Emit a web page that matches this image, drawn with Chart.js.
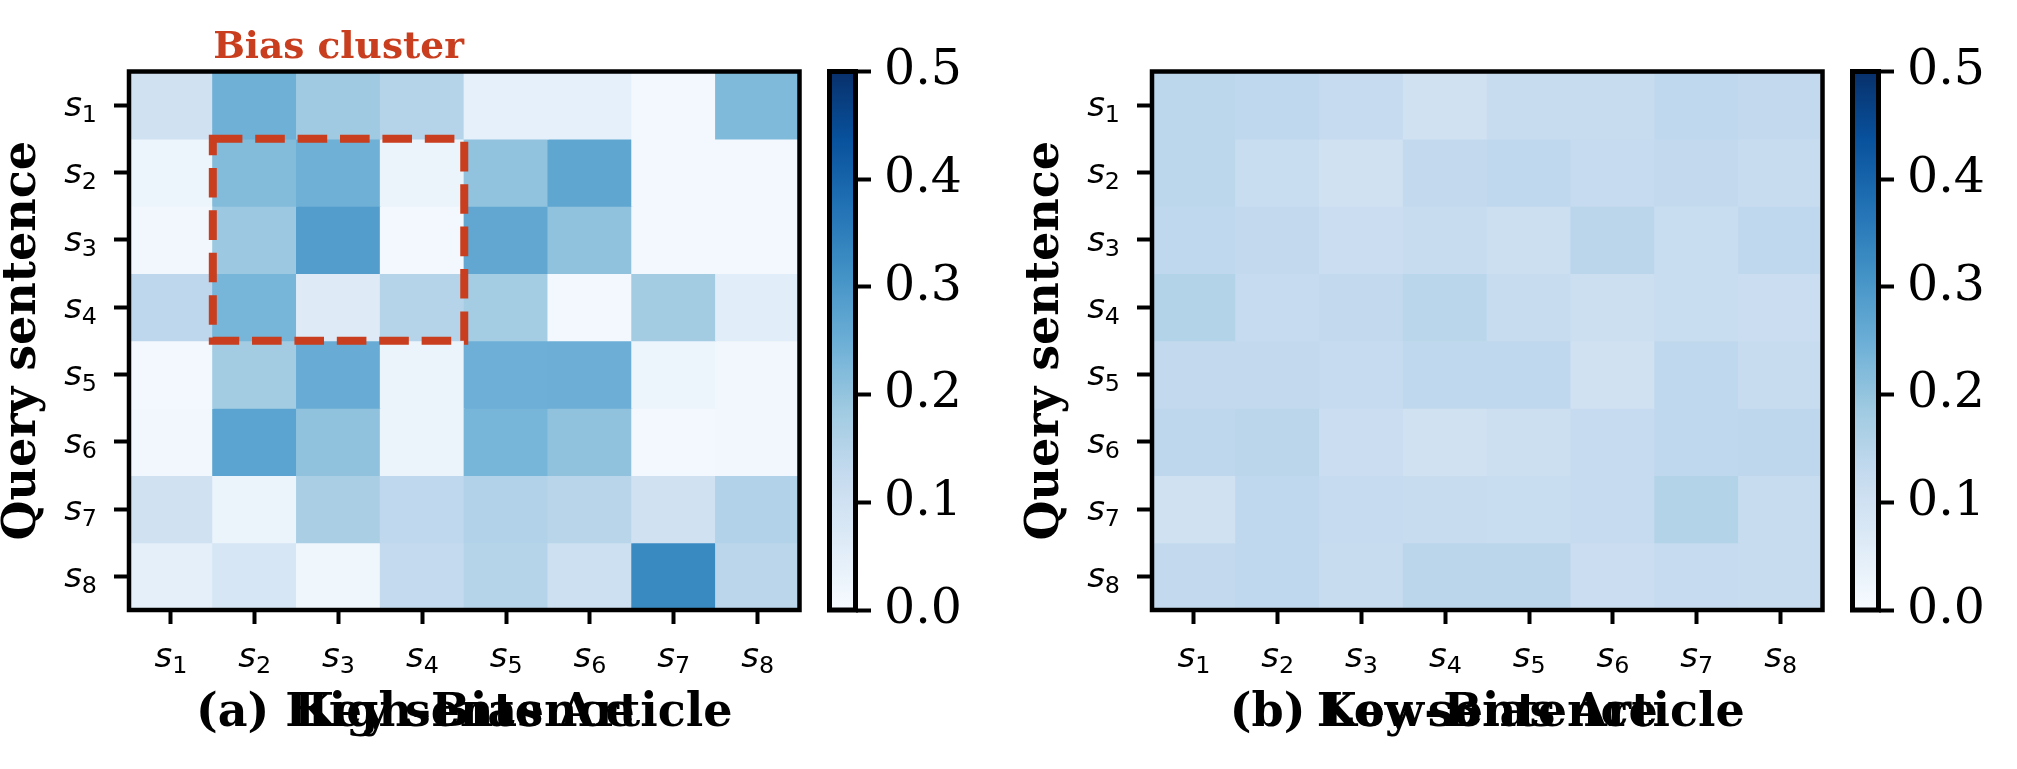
<!DOCTYPE html>
<html><head><meta charset="utf-8">
<script src="https://cdn.jsdelivr.net/npm/chart.js@4.4.1/dist/chart.umd.min.js"></script>
<style>
html,body{margin:0;padding:0;background:#fff;width:2017px;height:769px;overflow:hidden}
canvas{position:absolute;top:0}
</style></head><body>
<canvas id="hmA" width="812" height="769" style="left:0px"></canvas>
<canvas id="cbA" width="200" height="769" style="left:800px"></canvas>
<canvas id="hmB" width="812" height="769" style="left:1023px"></canvas>
<canvas id="cbB" width="194" height="769" style="left:1823px"></canvas>
<script>
// ---------------- data ----------------
const keyLabels   = ['s\u2081','s\u2082','s\u2083','s\u2084','s\u2085','s\u2086','s\u2087','s\u2088'];
const queryLabels = ['s\u2081','s\u2082','s\u2083','s\u2084','s\u2085','s\u2086','s\u2087','s\u2088'];

// rows = query sentence s1..s8, columns = key sentence s1..s8
const highBiasValues = [
  [0.100, 0.245, 0.186, 0.150, 0.042, 0.042, 0.012, 0.224],
  [0.025, 0.220, 0.245, 0.030, 0.203, 0.268, 0.010, 0.010],
  [0.015, 0.190, 0.288, 0.012, 0.265, 0.205, 0.010, 0.010],
  [0.138, 0.235, 0.062, 0.150, 0.178, 0.012, 0.180, 0.056],
  [0.010, 0.180, 0.254, 0.028, 0.247, 0.249, 0.025, 0.015],
  [0.015, 0.275, 0.205, 0.030, 0.235, 0.205, 0.010, 0.015],
  [0.100, 0.030, 0.168, 0.135, 0.158, 0.146, 0.100, 0.158],
  [0.045, 0.083, 0.020, 0.128, 0.150, 0.107, 0.328, 0.142]
];
const lowBiasValues = [
  [0.140, 0.135, 0.125, 0.100, 0.120, 0.120, 0.135, 0.130],
  [0.140, 0.118, 0.100, 0.130, 0.135, 0.125, 0.130, 0.120],
  [0.135, 0.130, 0.112, 0.120, 0.110, 0.142, 0.118, 0.135],
  [0.155, 0.125, 0.130, 0.145, 0.120, 0.110, 0.118, 0.112],
  [0.130, 0.130, 0.125, 0.135, 0.135, 0.100, 0.135, 0.120],
  [0.138, 0.142, 0.112, 0.100, 0.110, 0.125, 0.135, 0.138],
  [0.100, 0.135, 0.125, 0.122, 0.118, 0.125, 0.155, 0.122],
  [0.130, 0.135, 0.120, 0.142, 0.142, 0.112, 0.125, 0.120]
];
const colorbarRange = [0.0, 0.5];
const colorbarStep = 0.1;
const panelCaptions = ['(a) High-Bias Article', '(b) Low-Bias Article'];
const xAxisTitle = 'Key sentence';
const yAxisTitle = 'Query sentence';
const clusterLabel = 'Bias cluster';
const clusterKeyRange = [1, 3];    // s2..s4 (column indices)
const clusterQueryRange = [1, 3];  // s2..s4 (row indices)

// ---------------- colormap (matplotlib Blues) ----------------
const bluesStops = [
  [247,251,255],[222,235,247],[198,219,239],[158,202,225],[107,174,214],
  [66,146,198],[33,113,181],[8,81,156],[8,48,107]
];
function blues(t){
  t = Math.max(0, Math.min(1, t));
  const n = bluesStops.length - 1;
  const p = t * n, i = Math.min(n - 1, Math.floor(p)), f = p - i;
  const a = bluesStops[i], b = bluesStops[i+1];
  const c = a.map((v,k)=>Math.round(v + (b[k]-v)*f));
  return `rgb(${c[0]},${c[1]},${c[2]})`;
}
const norm = v => (v - colorbarRange[0]) / (colorbarRange[1] - colorbarRange[0]);

// ---------------- layout constants ----------------
const CANVAS_H = 769;
const AREA_TOP = 71.5, AREA_BOTTOM = 610;
const HM_LEFT = 129, HM_RIGHT = 799.5, HM_W = 812;
const CB_LEFT = 29.5, CB_RIGHT = 55.5;
const accent = 'rgb(200,62,30)';

const titleFont = {family: 'DejaVu Serif', size: 46, weight: 'bold', lineHeight: 1};
const cbFont = {family: 'DejaVu Serif', size: 49, lineHeight: 1};
const SUB_MAP = {'\u2080':'0','\u2081':'1','\u2082':'2','\u2083':'3','\u2084':'4','\u2085':'5','\u2086':'6','\u2087':'7','\u2088':'8','\u2089':'9'};

const framePlugin = {
  id: 'frame',
  afterDatasetsDraw(chart, args, opts) {
    const {ctx, chartArea: a} = chart;
    ctx.save();
    ctx.lineWidth = opts.width || 4;
    ctx.strokeStyle = '#000';
    ctx.strokeRect(a.left, a.top, a.right - a.left, a.bottom - a.top);
    ctx.restore();
  }
};

// math-style tick labels: italic base letter + upright subscript digit
function drawMathLabel(ctx, label, x, baseline, align) {
  const base = label[0];
  const sub = label.slice(1).split('').map(ch => SUB_MAP[ch] || ch).join('');
  const bigFont = 'italic 34px "DejaVu Sans"';
  const smallFont = '23.8px "DejaVu Sans"';
  ctx.font = bigFont;
  const w1 = ctx.measureText(base).width;
  ctx.font = smallFont;
  const w2 = ctx.measureText(sub).width;
  const total = w1 + w2;
  let x0 = align === 'right' ? x - total : x - total / 2;
  ctx.textAlign = 'left';
  ctx.textBaseline = 'alphabetic';
  ctx.font = bigFont;
  ctx.fillText(base, x0, baseline);
  ctx.font = smallFont;
  ctx.fillText(sub, x0 + w1, baseline + 5.5);
}

const mathTicksPlugin = {
  id: 'mathTicks',
  afterDraw(chart) {
    const {ctx} = chart;
    const xs = chart.scales.x, ys = chart.scales.y;
    ctx.save();
    ctx.fillStyle = '#000';
    keyLabels.forEach((lab, i) => {
      drawMathLabel(ctx, lab, xs.getPixelForTick(i), xs.top + 57, 'center');
    });
    queryLabels.forEach((lab, i) => {
      drawMathLabel(ctx, lab, ys.right - 32, ys.getPixelForTick(i) + 11, 'right');
    });
    ctx.restore();
  }
};

const captionPlugin = {
  id: 'caption',
  afterDraw(chart, args, opts) {
    if (!opts.text) return;
    const {ctx, chartArea: a} = chart;
    const xs = chart.scales.x;
    const t = xs.options.title;
    const y = xs.bottom - titleFont.size / 2 - t.padding.bottom;
    ctx.save();
    ctx.font = `bold ${titleFont.size}px "DejaVu Serif"`;
    ctx.fillStyle = '#000';
    ctx.textAlign = 'center';
    ctx.textBaseline = 'middle';
    ctx.fillText(opts.text, (a.left + a.right) / 2, y);
    ctx.restore();
  }
};

const clusterPlugin = {
  id: 'cluster',
  afterDatasetsDraw(chart, args, opts) {
    if (!opts.show) return;
    const {ctx, chartArea: a} = chart;
    const xs = chart.scales.x, ys = chart.scales.y;
    const x0 = xs.getPixelForValue(clusterKeyRange[0] - 0.5);
    const x1 = xs.getPixelForValue(clusterKeyRange[1] + 0.5);
    const y0 = ys.getPixelForValue(clusterQueryRange[0]);
    const y1 = ys.getPixelForValue(clusterQueryRange[1] + 1);
    ctx.save();
    ctx.strokeStyle = accent;
    ctx.lineWidth = 8;
    ctx.lineJoin = 'miter';
    ctx.setLineDash([29.6, 12.8]);
    ctx.beginPath();
    ctx.moveTo(x0, y0); ctx.lineTo(x1, y0); ctx.lineTo(x1, y1); ctx.lineTo(x0, y1); ctx.closePath();
    ctx.stroke();
    ctx.setLineDash([]);
    ctx.font = 'bold 37.5px "DejaVu Serif"';
    ctx.fillStyle = accent;
    ctx.textAlign = 'center';
    ctx.textBaseline = 'alphabetic';
    ctx.fillText(clusterLabel, (x0 + x1) / 2, a.top - 13.5);
    ctx.restore();
  }
};

function heatmap(id, values, caption, showCluster) {
  const datasets = queryLabels.map((q, r) => ({
    label: q,
    data: keyLabels.map(() => [r, r + 1]),
    backgroundColor: values[r].map(v => blues(norm(v))),
    borderWidth: 0,
    grouped: false,
    barPercentage: 1,
    categoryPercentage: 1,
    inflateAmount: 0.6
  }));
  return new Chart(document.getElementById(id), {
    type: 'bar',
    data: {labels: keyLabels, datasets},
    plugins: [framePlugin, mathTicksPlugin, captionPlugin, clusterPlugin],
    options: {
      responsive: false, animation: false, devicePixelRatio: 1, events: [],
      layout: {padding: {left: 0, top: AREA_TOP, right: HM_W - HM_RIGHT, bottom: 0}},
      plugins: {
        legend: {display: false}, tooltip: {enabled: false},
        frame: {width: 4.5},
        caption: {text: caption},
        cluster: {show: showCluster}
      },
      scales: {
        x: {
          type: 'category',
          offset: true,
          grid: {display: true, offset: false, drawOnChartArea: false, drawTicks: true,
                 tickLength: 14, tickWidth: 4, tickColor: '#000'},
          border: {display: false},
          ticks: {display: false, autoSkip: false, maxRotation: 0},
          title: {display: true, text: xAxisTitle, font: titleFont, color: '#000',
                  padding: {top: 0, bottom: 32}},
          afterFit: s => { s.height = CANVAS_H - AREA_BOTTOM; }
        },
        y: {
          type: 'linear', min: 0, max: queryLabels.length, reverse: true,
          afterBuildTicks: s => { s.ticks = queryLabels.map((q, i) => ({value: i + 0.5})); },
          grid: {display: true, drawOnChartArea: false, drawTicks: true,
                 tickLength: 15, tickWidth: 4, tickColor: '#000'},
          border: {display: false},
          ticks: {display: false, autoSkip: false},
          title: {display: true, text: yAxisTitle, font: titleFont, color: '#000',
                  padding: {top: 0, bottom: 0}},
          afterFit: s => { s.width = HM_LEFT; }
        }
      }
    }
  });
}

function colorbar(id, width) {
  return new Chart(document.getElementById(id), {
    type: 'bar',
    data: {
      labels: ['cb'],
      datasets: [{
        data: [colorbarRange],
        backgroundColor: (c) => {
          const ch = c.chart, a = ch.chartArea;
          if (!a) return '#fff';
          const g = ch.ctx.createLinearGradient(0, a.bottom, 0, a.top);
          bluesStops.forEach((s, i) => g.addColorStop(i / (bluesStops.length - 1), `rgb(${s[0]},${s[1]},${s[2]})`));
          return g;
        },
        borderWidth: 0, barPercentage: 1, categoryPercentage: 1, inflateAmount: 0.5
      }]
    },
    plugins: [framePlugin],
    options: {
      responsive: false, animation: false, devicePixelRatio: 1, events: [],
      layout: {padding: {left: CB_LEFT, top: AREA_TOP, right: 0, bottom: CANVAS_H - AREA_BOTTOM}},
      plugins: {legend: {display: false}, tooltip: {enabled: false}, frame: {width: 5}},
      scales: {
        x: {display: false},
        y: {
          position: 'right', type: 'linear', min: colorbarRange[0], max: colorbarRange[1],
          grid: {display: true, drawOnChartArea: false, drawTicks: true,
                 tickLength: 15.5, tickWidth: 4, tickColor: '#000'},
          border: {display: false},
          ticks: {stepSize: colorbarStep, font: cbFont, color: '#000', padding: 13,
                  callback: v => Number(v).toFixed(1)},
          afterFit: s => { s.width = width - CB_RIGHT; }
        }
      }
    }
  });
}

heatmap('hmA', highBiasValues, panelCaptions[0], true);
colorbar('cbA', 200);
heatmap('hmB', lowBiasValues, panelCaptions[1], false);
colorbar('cbB', 194);
</script>
</body></html>
